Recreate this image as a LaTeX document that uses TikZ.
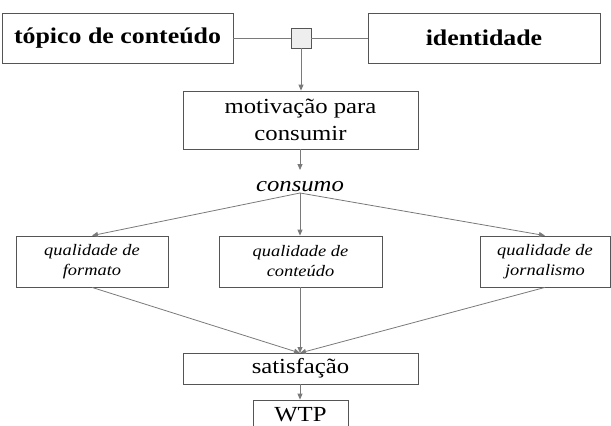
\documentclass[tikz,border=0pt]{standalone}
\usepackage{fontspec}
\setmainfont{Liberation Serif}[FakeStretch=1.15]
\usetikzlibrary{arrows.meta}
\definecolor{boxline}{HTML}{555555}
\definecolor{connline}{HTML}{7A7A7A}
\definecolor{sqfill}{HTML}{EEEEEE}
\begin{document}
\begin{tikzpicture}[x=1pt,y=-1pt,
  box/.style={draw=boxline,line width=0.8pt,rectangle,inner sep=0pt,align=center},
  bigbold/.style={font=\bfseries\fontsize{22.5}{27}\selectfont},
  regtext/.style={font=\fontsize{21.5}{27}\selectfont},
  qualtext/.style={font=\itshape\fontsize{16}{20}\selectfont},
  conn/.style={draw=connline,line width=0.8pt},
  arr/.style={conn,-{Triangle[length=6pt,width=5pt]}},
]
\useasboundingbox (0,0) rectangle (611,426);
\clip (0,0) rectangle (611,426);
% top row
\node[box,bigbold,minimum width=231pt,minimum height=50pt] (top1) at (117.5,38) {tópico de conteúdo};
\node[box,bigbold,minimum width=232pt,minimum height=50pt] (top2) at (484,38) {identidade};
\node[draw=boxline,fill=sqfill,line width=0.8pt,rectangle,inner sep=0pt,minimum size=20pt] (sq) at (301,38) {};
\draw[conn] (top1.east) -- (sq.west);
\draw[conn] (sq.east) -- (top2.west);
% motivation
\node[box,regtext,minimum width=235pt,minimum height=58pt] (mot) at (300.5,120) {motivação para\\consumir};
\draw[arr] (sq.south) -- (sq.south |- mot.north);
% consumo
\node[font=\itshape\fontsize{21.5}{26}\selectfont,inner sep=0pt,anchor=base] (cons) at (300,191) {consumo};
\coordinate (c0) at (300,193);
\draw[arr] (mot.south -| c0) -- (300,170);
% quality boxes
\node[box,qualtext,minimum width=152pt,minimum height=51pt] (q1) at (92,261.5) {qualidade de\\formato};
\node[box,qualtext,minimum width=163pt,minimum height=51pt] (q2) at (300.5,261.5) {qualidade de\\conteúdo};
\node[box,qualtext,minimum width=130pt,minimum height=51pt] (q3) at (545,261.5) {qualidade de\\jornalismo};
\draw[arr] (c0) -- (q1.north);
\draw[arr] (c0) -- (c0 |- q2.north);
\draw[arr] (c0) -- (q3.north);
% satisfaction
\node[box,regtext,minimum width=235pt,minimum height=31pt] (sat) at (300.5,368.5) {satisfação};
\coordinate (s0) at (300,353);
\draw[arr] (q1.south) -- (s0);
\draw[arr] (q2.south -| s0) -- (s0);
\draw[arr] (q3.south) -- (s0);
% WTP
\node[box,regtext,minimum width=95pt,minimum height=30pt] (wtp) at (300.5,415) {WTP};
\draw[arr] (sat.south -| s0) -- (wtp.north -| s0);
\end{tikzpicture}
\end{document}
